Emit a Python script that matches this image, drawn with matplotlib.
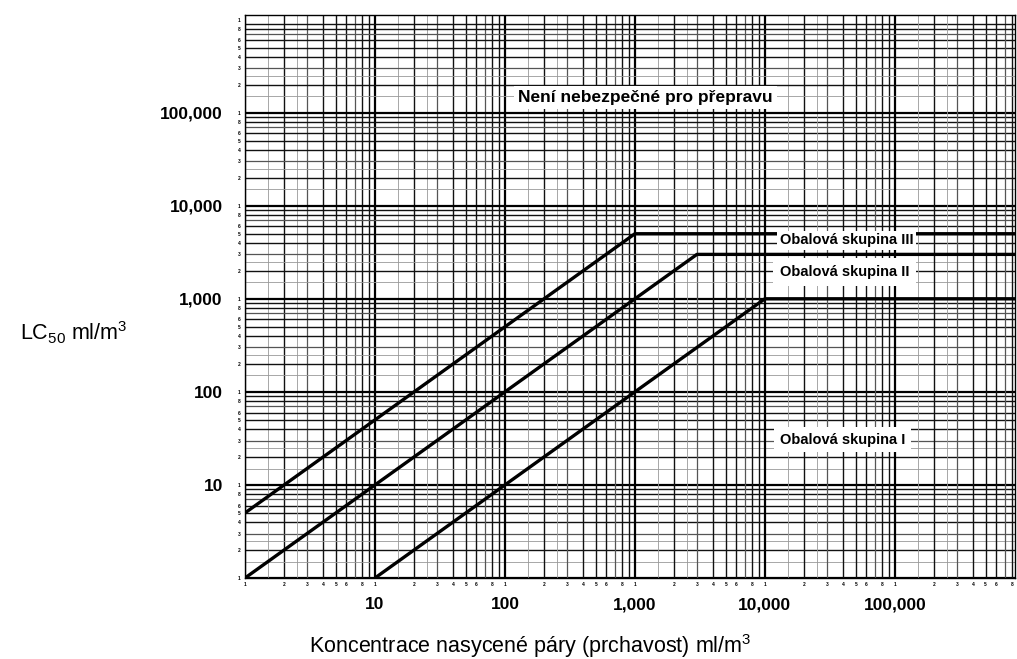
import numpy as np
import matplotlib
matplotlib.use('Agg')
import matplotlib.pyplot as plt

plt.rcParams['font.family'] = ['Liberation Sans', 'DejaVu Sans']
plt.rcParams['mathtext.fontset'] = 'custom'
plt.rcParams['mathtext.rm'] = 'Liberation Sans'

# axis ranges
X_MIN, X_MAX = 1, 8.4e5
Y_MIN, Y_MAX = 1, 1.12e6

# packing group boundaries: vapour concentration vs LC50
vap_III = [1, 1000, X_MAX]
lc50_III = [5, 5000, 5000]
vap_II = [1, 3000, X_MAX]
lc50_II = [1, 3000, 3000]
vap_I = [10, 10000, X_MAX]
lc50_I = [1, 1000, 1000]

x_major = [10, 100, 1000, 10000, 100000]
x_major_labels = ['10', '100', '1,000', '10,000', '100,000']
y_major = [10, 100, 1000, 10000, 100000]
y_major_labels = ['10', '100', '1,000', '10,000', '100,000']
small_digits = [1, 2, 3, 4, 5, 6, 8]

fig = plt.figure(figsize=(10.17, 6.59), dpi=100)
ax = fig.add_axes([245 / 1017, 1 - 578 / 659, 770 / 1017, 563 / 659])
ax.set_xscale('log')
ax.set_yscale('log')
ax.set_xlim(X_MIN, X_MAX)
ax.set_ylim(Y_MIN, Y_MAX)

# graph-paper style grid
for k in range(0, 6):
    for m in range(1, 10):
        v = m * 10 ** k
        if m == 1:
            lw, c = 1.6, 'black'
        elif m in (3, 7):
            lw, c = 0.9, '#555555'
        else:
            lw, c = 1.0, '#111111'
        if X_MIN <= v <= X_MAX:
            ax.axvline(v, color=c, lw=lw, zorder=1)
        if Y_MIN <= v <= Y_MAX:
            ax.axhline(v, color=c, lw=lw, zorder=1)
    for m in (1.5, 2.5):
        v = m * 10 ** k
        if v <= X_MAX:
            ax.axvline(v, color='#999999', lw=0.6, zorder=1)
        ax.axhline(v, color='#999999', lw=0.6, zorder=1)

for vx, vy in [(vap_III, lc50_III), (vap_II, lc50_II), (vap_I, lc50_I)]:
    ax.plot(vx, vy, color='black', lw=2.4, zorder=3, solid_capstyle='butt')

# region / group labels on white patches
ax.text(1200, 1.45e5, 'Není nebezpečné pro přepravu', ha='center', va='center',
        fontsize=12.5, fontweight='bold', zorder=4,
        bbox=dict(facecolor='white', edgecolor='none', pad=3))
ax.text(13000, 4250, 'Obalová skupina III', ha='left', va='center',
        fontsize=10.5, fontweight='bold', zorder=4,
        bbox=dict(facecolor='white', edgecolor='none', pad=2))
ax.text(13000, 1950, 'Obalová skupina II', ha='left', va='center',
        fontsize=10.5, fontweight='bold', zorder=4,
        bbox=dict(facecolor='white', edgecolor='none', pad=5))
ax.text(13000, 30.5, 'Obalová skupina I', ha='left', va='center',
        fontsize=10.5, fontweight='bold', zorder=4,
        bbox=dict(facecolor='white', edgecolor='none', pad=4))

# ticks: big decade labels plus tiny scale digits along the axes
ax.tick_params(which='both', length=0)
ax.set_xticks(x_major)
ax.set_xticklabels(x_major_labels, fontsize=12.5, fontweight='bold')
ax.set_yticks(y_major)
ax.set_yticklabels(y_major_labels, fontsize=12.5, fontweight='bold')
ax.tick_params(axis='x', which='major', pad=14)
ax.tick_params(axis='y', which='major', pad=16)

x_minor = [m * 10 ** k for k in range(0, 6) for m in small_digits if m * 10 ** k <= X_MAX]
y_minor = [m * 10 ** k for k in range(0, 7) for m in small_digits if m * 10 ** k <= Y_MAX]
ax.xaxis.remove_overlapping_locs = False
ax.yaxis.remove_overlapping_locs = False
ax.set_xticks(x_minor, minor=True)
ax.set_xticklabels([str(int(v))[0] for v in x_minor], minor=True,
                   fontsize=3.5, fontweight='bold')
ax.set_yticks(y_minor, minor=True)
ax.set_yticklabels([str(int(v))[0] for v in y_minor], minor=True,
                   fontsize=3.5, fontweight='bold')
ax.tick_params(which='minor', pad=3)

for s in ax.spines.values():
    s.set_color('black')
    s.set_linewidth(1.0)

fig.text(20 / 1017, 1 - 333 / 659, r'LC$_\mathregular{50}$ ml/m$^\mathregular{3}$',
         fontsize=15.5, ha='left', va='center')
fig.text(530 / 1017, 1 - 646 / 659,
         r'Koncentrace nasycené páry (prchavost) ml/m$^\mathregular{3}$',
         fontsize=15.5, ha='center', va='center')

fig.savefig('out.png', dpi=100)
